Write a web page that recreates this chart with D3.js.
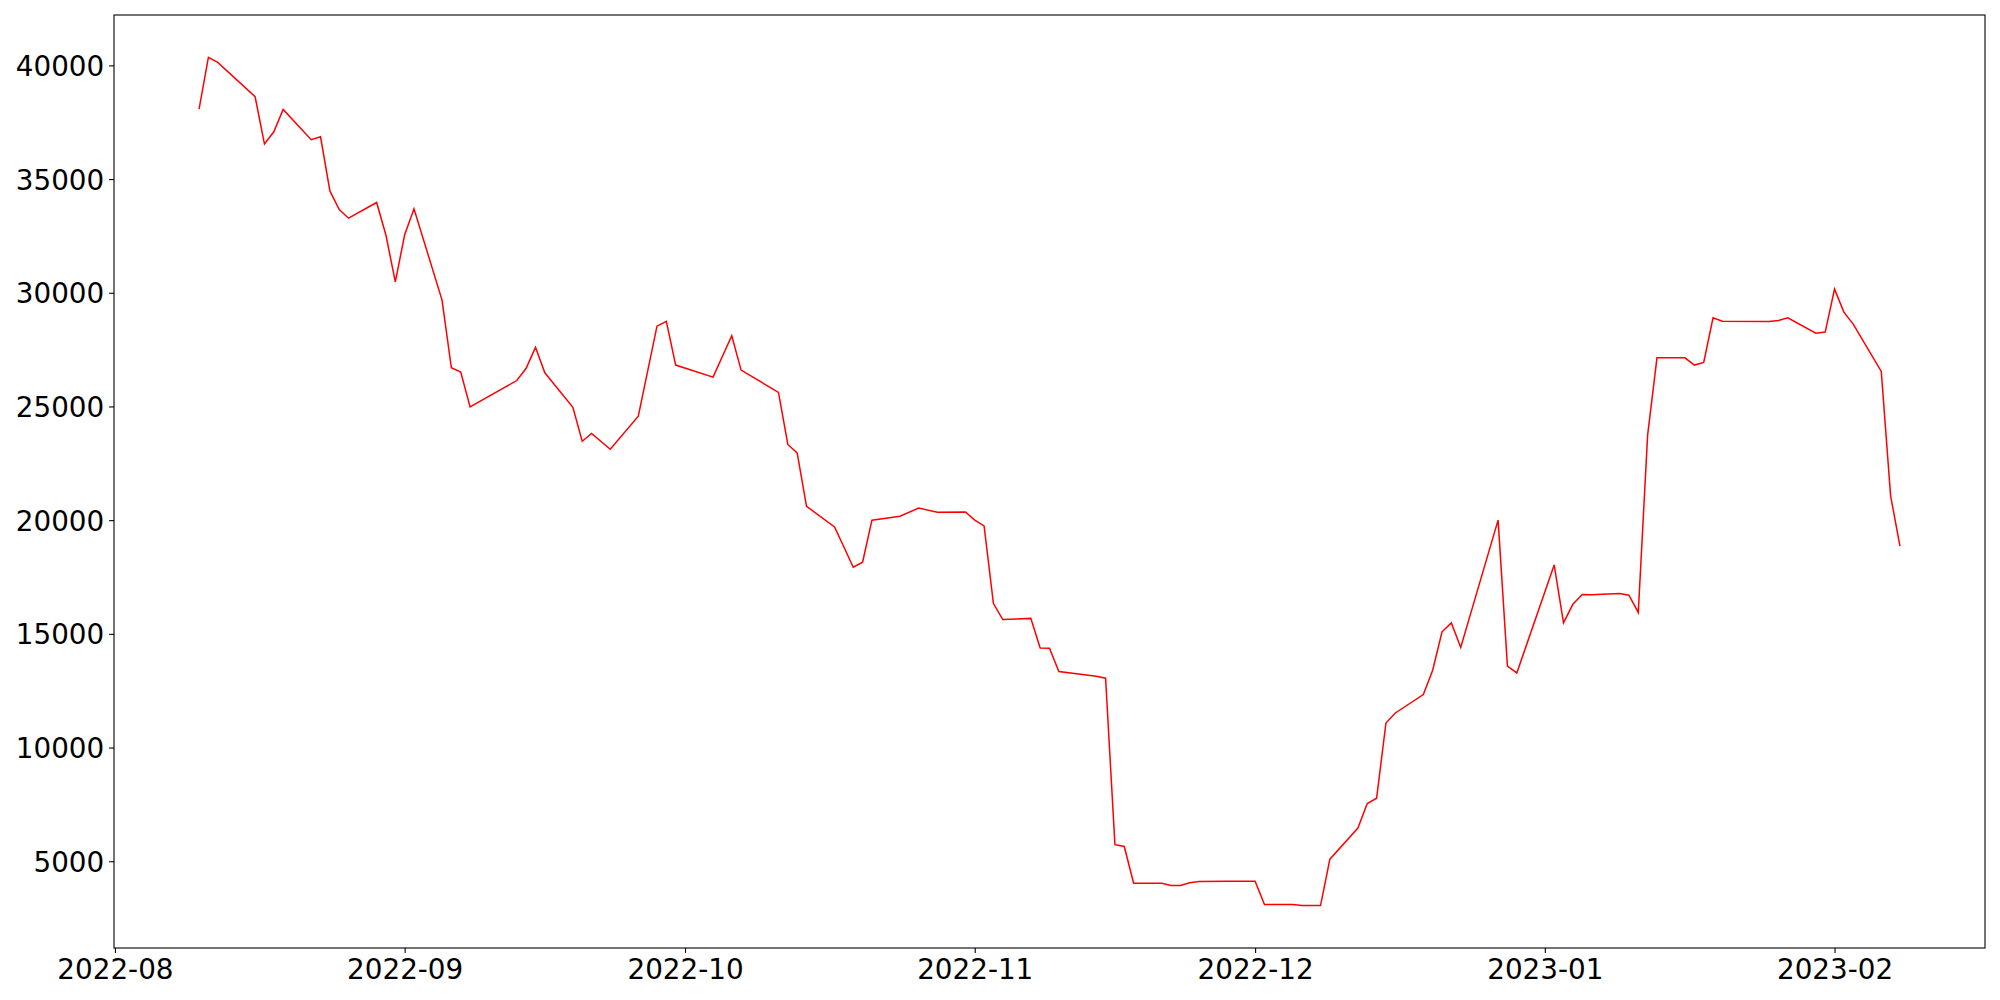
<!DOCTYPE html>
<html>
<head>
<meta charset="utf-8">
<script src="https://cdn.jsdelivr.net/npm/d3@7"></script>
<style>
  body { margin: 0; background: #fff; }
  svg { display: block; }
  svg text { font-family: "DejaVu Sans", sans-serif; }
</style>
</head>
<body>
<svg></svg>
<script>
// Data (trading days only)
const dates = [
  "2022-08-10","2022-08-11","2022-08-12","2022-08-16","2022-08-17","2022-08-18","2022-08-19",
  "2022-08-22","2022-08-23","2022-08-24","2022-08-25","2022-08-26","2022-08-29","2022-08-30",
  "2022-08-31","2022-09-01","2022-09-02","2022-09-05","2022-09-06","2022-09-07","2022-09-08",
  "2022-09-13","2022-09-14","2022-09-15","2022-09-16","2022-09-19","2022-09-20","2022-09-21",
  "2022-09-23","2022-09-26","2022-09-28","2022-09-29","2022-09-30","2022-10-04","2022-10-06",
  "2022-10-07","2022-10-11","2022-10-12","2022-10-13","2022-10-14","2022-10-17","2022-10-18",
  "2022-10-19","2022-10-20","2022-10-21","2022-10-24","2022-10-26","2022-10-28","2022-10-31",
  "2022-11-01","2022-11-02","2022-11-03","2022-11-04","2022-11-07","2022-11-08","2022-11-09",
  "2022-11-10","2022-11-14","2022-11-15","2022-11-16","2022-11-17","2022-11-18","2022-11-21",
  "2022-11-22","2022-11-23","2022-11-24","2022-11-25","2022-11-28","2022-11-29","2022-11-30",
  "2022-12-01","2022-12-02","2022-12-05","2022-12-06","2022-12-07","2022-12-08","2022-12-09",
  "2022-12-12","2022-12-13","2022-12-14","2022-12-15","2022-12-16","2022-12-19","2022-12-20",
  "2022-12-21","2022-12-22","2022-12-23","2022-12-27","2022-12-28","2022-12-29","2023-01-02",
  "2023-01-03","2023-01-04","2023-01-05","2023-01-06","2023-01-09","2023-01-10","2023-01-11",
  "2023-01-12","2023-01-13","2023-01-16","2023-01-17","2023-01-18","2023-01-19","2023-01-20",
  "2023-01-25","2023-01-26","2023-01-27","2023-01-30","2023-01-31","2023-02-01","2023-02-02",
  "2023-02-03","2023-02-06","2023-02-07","2023-02-08"
];
const values = [
  38080, 40350, 40130, 38620, 36540, 37080, 38060,
  36730, 36860, 34480, 33660, 33280, 33970, 32530,
  30480, 32550, 33690, 29680, 26700, 26510, 24980,
  26140, 26680, 27600, 26480, 24960, 23470, 23810,
  23120, 24570, 28530, 28740, 26820, 26290, 28110,
  26600, 25620, 23330, 22960, 20610, 19700, 18820,
  17930, 18150, 20000, 20170, 20530, 20350, 20360,
  20000, 19750, 16330, 15630, 15680, 14380, 14370,
  13340, 13140, 13050, 5730, 5650, 4030, 4030,
  3930, 3930, 4050, 4110, 4120, 4120, 4120,
  4120, 3100, 3100, 3050, 3050, 3050, 5090,
  6460, 7540, 7770, 11080, 11520, 12330, 13400,
  15090, 15480, 14400, 20000, 13580, 13280, 18030,
  15480, 16300, 16730, 16720, 16770, 16700, 15940,
  23740, 27140, 27140, 26820, 26940, 28900, 28750,
  28740, 28780, 28900, 28220, 28270, 30160, 29150,
  28620, 26540, 21070, 18860
];
const yTicks = [5000, 10000, 15000, 20000, 25000, 30000, 35000, 40000];

// Figure layout (matplotlib-like)
const svgWidth = 2000;
const svgHeight = 1000;
const margin = { top: 15, right: 15, bottom: 52, left: 114 };
const width = svgWidth - margin.left - margin.right;
const height = svgHeight - margin.top - margin.bottom;
const fontSize = 27.8;
const fontFamily = "'DejaVu Sans', sans-serif";

const parse = d3.utcParse("%Y-%m-%d");
const data = dates.map((d, i) => ({ date: parse(d), value: values[i] }));

const svg = d3.select("svg")
    .attr("width", svgWidth)
    .attr("height", svgHeight)
    .append("g")
    .attr("transform", `translate(${margin.left},${margin.top})`);

// 5% padding on both axes, like matplotlib autoscale
const [x0, x1] = d3.extent(data, d => d.date);
const xPad = (x1 - x0) * 0.05;
const x = d3.scaleUtc()
    .domain([new Date(+x0 - xPad), new Date(+x1 + xPad)])
    .range([0, width]);

const [y0, y1] = d3.extent(data, d => d.value);
const yPad = (y1 - y0) * 0.05;
const y = d3.scaleLinear()
    .domain([y0 - yPad, y1 + yPad])
    .range([height, 0]);

// The line
const line = d3.line()
    .x(d => x(d.date))
    .y(d => y(d.value));

svg.append("path")
    .datum(data)
    .attr("fill", "none")
    .attr("stroke", "red")
    .attr("stroke-width", 1.5)
    .attr("stroke-linejoin", "miter")
    .attr("d", line);

// X axis
const xAxis = svg.append("g")
    .attr("transform", `translate(0,${height})`)
    .call(d3.axisBottom(x)
        .ticks(d3.utcMonth.every(1))
        .tickFormat(d3.utcFormat("%Y-%m"))
        .tickSize(4.9)
        .tickPadding(4.9));
xAxis.attr("font-family", fontFamily).attr("font-size", fontSize);
xAxis.select(".domain").remove();
xAxis.selectAll("line").attr("stroke", "#000").attr("stroke-width", 1.1);
xAxis.selectAll("text")
    .attr("fill", "#000")
    .style("font-family", fontFamily)
    .style("font-size", fontSize + "px")
    .attr("dy", "0.76em");

// Y axis
const yAxis = svg.append("g")
    .call(d3.axisLeft(y)
        .tickValues(yTicks)
        .tickFormat(d => d)
        .tickSize(4.9)
        .tickPadding(4.9));
yAxis.attr("font-family", fontFamily).attr("font-size", fontSize);
yAxis.select(".domain").remove();
yAxis.selectAll("line").attr("stroke", "#000").attr("stroke-width", 1.1);
yAxis.selectAll("text")
    .attr("fill", "#000")
    .style("font-family", fontFamily)
    .style("font-size", fontSize + "px")
    .attr("dy", "0.36em");

// Frame (spines)
svg.append("rect")
    .attr("x", 0)
    .attr("y", 0)
    .attr("width", width)
    .attr("height", height)
    .attr("fill", "none")
    .attr("stroke", "#000")
    .attr("stroke-width", 1.1);
</script>
</body>
</html>
